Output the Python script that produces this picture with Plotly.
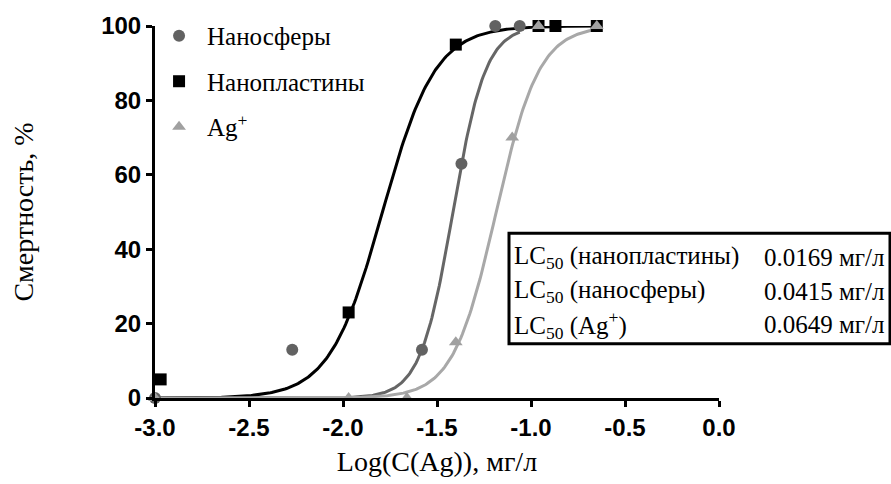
import numpy as np
import plotly.graph_objects as go

# ---- data ----
sph_x = [-3.0, -2.27, -1.58, -1.37, -1.19, -1.06]
sph_y = [0, 13, 13, 63, 100, 100]

pl_x = [-2.97, -1.97, -1.40, -0.96, -0.87, -0.65]
pl_y = [5, 23, 95, 100, 100, 100]

ag_x = [-3.0, -1.97, -1.66, -1.40, -1.10, -0.96, -0.65]
ag_y = [0, 0, 0, 15, 70, 100, 100]

# fitted dose-response curves as drawn (log LC50 and slope)
series_names = ["Наносферы", "Нанопластины", "Ag<sup>+</sup>"]
log_lc50 = [-1.415, -1.79, -1.185]
hill = [5.0, 3.1, 3.8]
fit_start = [-3.0, -3.0, -3.0]
fit_end = [-1.06, -0.65, -0.65]

table_labels = ["LC<sub>50</sub> (нанопластины)", "LC<sub>50</sub> (наносферы)", "LC<sub>50</sub> (Ag<sup>+</sup>)"]
table_values = ["0.0169 мг/л", "0.0415 мг/л", "0.0649 мг/л"]

x_ticks = [-3.0, -2.5, -2.0, -1.5, -1.0, -0.5, 0.0]
y_ticks = [0, 20, 40, 60, 80, 100]

SERIF = "Times New Roman, Liberation Serif, serif"
SANS = "Arial, Liberation Sans, sans-serif"

def fit_curve(i):
    xs = np.linspace(fit_start[i], fit_end[i], 300)
    ys = 100.0 / (1.0 + 10 ** ((log_lc50[i] - xs) * hill[i]))
    return xs, ys

fig = go.Figure()

line_colors = ["#666666", "#000000", "#a8a8a8"]
marker_colors = ["#626262", "#000000", "#a0a0a0"]
symbols = ["circle", "square", "triangle-up"]
pts = [(sph_x, sph_y), (pl_x, pl_y), (ag_x, ag_y)]

for i in range(3):
    xs, ys = fit_curve(i)
    fig.add_trace(go.Scatter(x=xs, y=ys, mode="lines",
                             line=dict(color=line_colors[i], width=3),
                             showlegend=False, cliponaxis=False, hoverinfo="skip"))
for i in range(3):
    fig.add_trace(go.Scatter(x=pts[i][0], y=pts[i][1], mode="markers",
                             name=series_names[i], legendgroup=str(i),
                             marker=dict(symbol=symbols[i], size=12,
                                         color=marker_colors[i], line=dict(width=0)),
                             cliponaxis=False))

# LC50 table
x0p, x1p = (509 - 155) / 564, (890 - 155) / 564
y_top, y_bot = (400 - 233) / 377, (400 - 345) / 377
fig.add_shape(type="rect", xref="paper", yref="paper", x0=x0p, x1=x1p, y0=y_bot, y1=y_top,
              line=dict(color="black", width=3), fillcolor="white", layer="above")
row_px = [258, 292, 326]
for lab, val, py in zip(table_labels, table_values, row_px):
    yp = (400 - py) / 377
    fig.add_annotation(xref="paper", yref="paper", x=(512 - 155) / 564, y=yp,
                       text=lab, showarrow=False, xanchor="left", yanchor="middle",
                       font=dict(family=SERIF, size=25, color="black"))
    fig.add_annotation(xref="paper", yref="paper", x=(887 - 155) / 564, y=yp,
                       text=val, showarrow=False, xanchor="right", yanchor="middle",
                       font=dict(family=SERIF, size=25, color="black"))

fig.update_layout(
    width=891, height=484,
    margin=dict(l=155, r=172, t=23, b=84),
    paper_bgcolor="white", plot_bgcolor="white",
    showlegend=True,
    legend=dict(x=-0.007, y=1.035, xanchor="left", yanchor="top", itemwidth=46,
                bgcolor="rgba(0,0,0,0)", traceorder="grouped", tracegroupgap=10,
                font=dict(family=SERIF, size=25, color="black")),
    xaxis=dict(range=[-3.0, 0.0], tickvals=x_ticks,
               ticktext=[f"{v:.1f}" for v in x_ticks],
               showgrid=False, zeroline=False, showline=True, linecolor="black", linewidth=3,
               ticks="outside", ticklen=6, tickwidth=3, tickcolor="black",
               tickfont=dict(family=SANS, size=24, color="black", weight="bold"),
               title=dict(text="Log(C(Ag)), мг/л", standoff=12,
                          font=dict(family=SERIF, size=28, color="black"))),
    yaxis=dict(range=[0, 100], tickvals=y_ticks,
               showgrid=False, zeroline=False, showline=True, linecolor="black", linewidth=3,
               ticks="outside", ticklen=6, tickwidth=3, tickcolor="black",
               tickfont=dict(family=SANS, size=24, color="black", weight="bold"),
               title=dict(text="Смертность, %", standoff=60,
                          font=dict(family=SERIF, size=28, color="black"))),
)

fig.write_html("out.html")
